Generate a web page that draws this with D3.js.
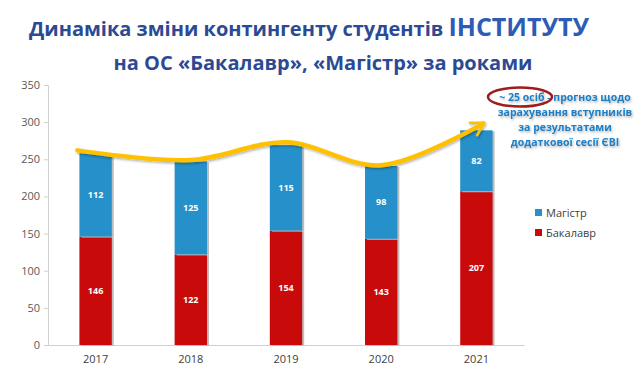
<!DOCTYPE html>
<html>
<head>
<meta charset="utf-8">
<script src="https://cdn.jsdelivr.net/npm/d3@7"></script>
<style>
  body { margin: 0; background: #fff; }
  svg { display: block; }
</style>
</head>
<body>
<svg id="chart"></svg>
<script>
// chart data
var years = ['2017', '2018', '2019', '2020', '2021'];
var bachelor = [146, 122, 154, 143, 207];
var master = [112, 125, 115, 98, 82];
var trend = [262, 249, 273, 242, 298];   // yellow curve
var yTicks = [0, 50, 100, 150, 200, 250, 300, 350];
var seriesNames = ['Магістр', 'Бакалавр'];
var noteLines = ['~ 25 осіб - прогноз щодо', 'зарахування вступників', 'за результатами', 'додаткової сесії ЄВІ'];

var width = 640, height = 389;
var margin = { left: 48, right: 116, top: 85, bottom: 44 };

var svg = d3.select('#chart').attr('width', width).attr('height', height);

var defs = svg.append('defs');
var shadow = defs.append('filter').attr('id', 'shadow').attr('x', '-20%').attr('y', '-20%').attr('width', '140%').attr('height', '140%');
shadow.append('feDropShadow').attr('dx', 1).attr('dy', 1.5).attr('stdDeviation', 1).attr('flood-color', '#000').attr('flood-opacity', 0.3);

// open chevron arrow head
defs.append('marker')
  .attr('id', 'arrow')
  .attr('viewBox', '0 0 10 10')
  .attr('refX', 7).attr('refY', 5)
  .attr('markerWidth', 4).attr('markerHeight', 4)
  .attr('orient', 'auto')
  .append('path')
  .attr('d', 'M1,1 L8,5 L1,9')
  .attr('fill', 'none')
  .attr('stroke', '#ffc000')
  .attr('stroke-width', 1.4)
  .attr('stroke-linecap', 'round')
  .attr('stroke-linejoin', 'round');

// scales
var x = d3.scaleBand()
  .domain(years)
  .range([margin.left, width - margin.right])
  .paddingInner(0.66)
  .paddingOuter(0.33);

var y = d3.scaleLinear()
  .domain([0, 350])
  .range([height - margin.bottom, margin.top]);

// title
var title = svg.append('g').attr('font-family', 'Open Sans, sans-serif').attr('font-weight', 'bold');
var t1 = title.append('text').attr('x', 309).attr('y', 36).attr('text-anchor', 'middle').attr('fill', '#2c4a94').attr('font-size', 20);
t1.append('tspan').text('Динаміка зміни контингенту студентів ');
t1.append('tspan').attr('font-size', 25).attr('fill', '#2d5cb6').text('ІНСТИТУТУ');
title.append('text').attr('x', 323).attr('y', 70).attr('text-anchor', 'middle').attr('fill', '#2c4a94').attr('font-size', 20)
  .text('на ОС «Бакалавр», «Магістр» за роками');

// axes
var yAxis = d3.axisLeft(y).tickValues(yTicks).tickSize(4).tickPadding(4);
var gy = svg.append('g').attr('transform', 'translate(' + margin.left + ',0)').call(yAxis);
gy.select('.domain').attr('stroke', '#d0d0d0');
gy.selectAll('.tick line').attr('stroke', '#d0d0d0');
gy.selectAll('.tick text').attr('fill', '#595959').attr('font-size', 11).attr('font-family', 'Open Sans, sans-serif');

var xAxis = d3.axisBottom(x).tickSize(0).tickPadding(10);
var gx = svg.append('g').attr('transform', 'translate(0,' + (height - margin.bottom) + ')').call(xAxis);
gx.select('.domain').attr('stroke', '#d0d0d0');
gx.selectAll('.tick text').attr('fill', '#404040').attr('font-size', 11).attr('font-family', 'Open Sans, sans-serif');

// stacked bars
var stackData = years.map(function(d, i) {
  return { year: d, bachelor: bachelor[i], master: master[i] };
});
var stacked = d3.stack().keys(['bachelor', 'master'])(stackData);
var colors = { bachelor: '#c80a0a', master: '#2590c9' };

var bars = svg.append('g');
stacked.forEach(function(layer) {
  var g = bars.append('g');
  g.selectAll('rect.sh').data(layer).enter().append('rect')
    .attr('x', function(d) { return x(d.data.year) + 2; })
    .attr('y', function(d) { return y(d[1]) + 1; })
    .attr('width', x.bandwidth())
    .attr('height', function(d) { return y(d[0]) - y(d[1]); })
    .attr('fill', '#bdbdbd');
  g.selectAll('rect.bar').data(layer).enter().append('rect')
    .attr('x', function(d) { return x(d.data.year); })
    .attr('y', function(d) { return y(d[1]); })
    .attr('width', x.bandwidth())
    .attr('height', function(d) { return y(d[0]) - y(d[1]); })
    .attr('fill', colors[layer.key]);
  g.selectAll('text').data(layer).enter().append('text')
    .attr('x', function(d) { return x(d.data.year) + x.bandwidth() / 2; })
    .attr('y', function(d) { return (y(d[0]) + y(d[1])) / 2 + 3; })
    .attr('text-anchor', 'middle')
    .attr('fill', '#fff')
    .attr('font-size', 9)
    .attr('font-weight', 'bold')
    .attr('font-family', 'Open Sans, sans-serif')
    .text(function(d) { return d[1] - d[0]; });
});

// yellow trend curve with arrow
var trendPts = years.map(function(d, i) {
  var px = x(d) + x.bandwidth() / 2;
  if (i === 0) px = x(d) - 2;
  if (i === years.length - 1) px = x(d) + x.bandwidth() * 0.7;
  return [px, y(trend[i])];
});
svg.append('path')
  .attr('d', d3.line().curve(d3.curveCatmullRom.alpha(0.5))(trendPts))
  .attr('fill', 'none')
  .attr('stroke', '#ffc000')
  .attr('stroke-width', 4.5)
  .attr('stroke-linecap', 'round')
  .attr('marker-end', 'url(#arrow)')
  .attr('filter', 'url(#shadow)');

// legend
var legend = svg.append('g').attr('font-family', 'Open Sans, sans-serif');
seriesNames.forEach(function(name, i) {
  var ly = 213 + i * 20;
  legend.append('rect').attr('x', 535).attr('y', ly - 4).attr('width', 7).attr('height', 7)
    .attr('fill', i === 0 ? colors.master : colors.bachelor);
  legend.append('text').attr('x', 546).attr('y', ly + 3.5).attr('font-size', 11).attr('fill', '#404040').text(name);
});

// annotation
var note = svg.append('g').attr('font-family', 'Open Sans, sans-serif').attr('font-weight', 'bold')
  .attr('font-size', 10.5).attr('fill', '#1f7fc6').attr('text-anchor', 'middle').attr('filter', 'url(#shadow)');
noteLines.forEach(function(line, i) {
  note.append('text').attr('x', 565).attr('y', 101 + i * 15).text(line);
});
svg.append('ellipse')
  .attr('cx', 520).attr('cy', 97).attr('rx', 32).attr('ry', 9.5)
  .attr('fill', 'none').attr('stroke', '#9e1c1c').attr('stroke-width', 2.5);
</script>
</body>
</html>
